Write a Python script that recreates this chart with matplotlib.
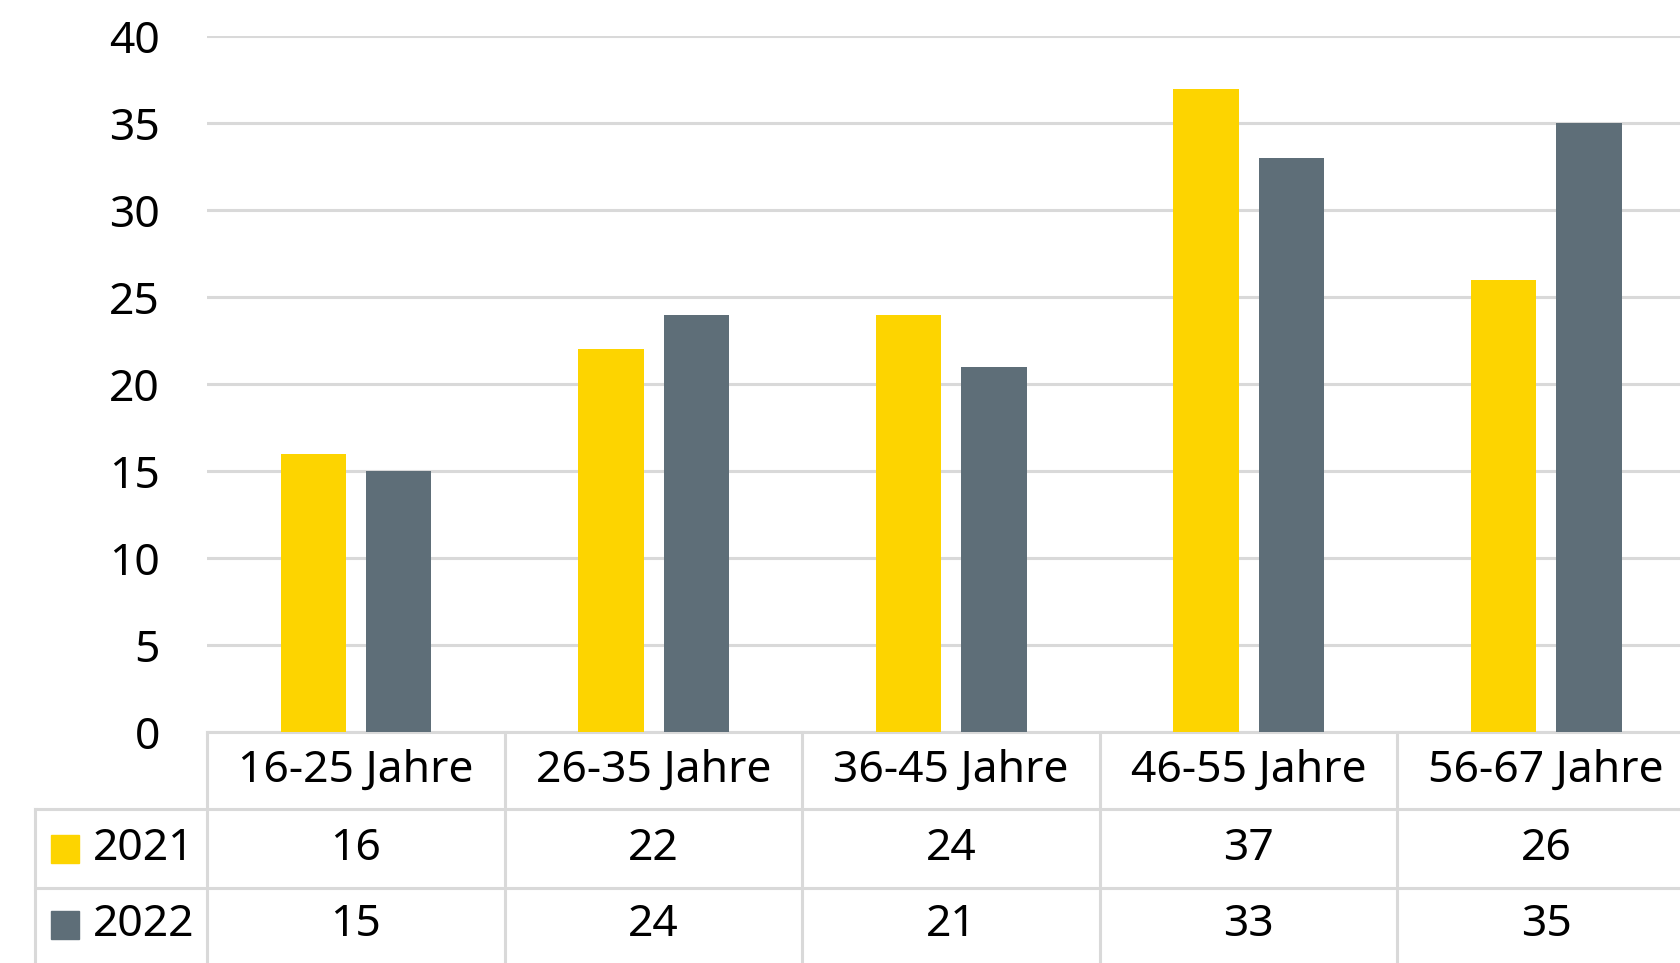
import matplotlib.pyplot as plt
import numpy as np

plt.rcParams['font.family'] = ['Noto Sans', 'DejaVu Sans']

# ---------- Data ----------
categories = ["16-25 Jahre", "26-35 Jahre", "36-45 Jahre", "46-55 Jahre", "56-67 Jahre"]
years = ["2021", "2022"]
values_2021 = [16, 22, 24, 37, 26]
values_2022 = [15, 24, 21, 33, 35]
yticks = [0, 5, 10, 15, 20, 25, 30, 35, 40]

yellow = "#FDD400"
slate = "#5E6E78"
line_col = "#D9D9D9"
fs = 32

fig = plt.figure(figsize=(16.81, 9.63), dpi=100)
ax = fig.add_axes([207 / 1681, (963 - 732) / 963, 1 - 207 / 1681, (732 - 36.5) / 963])

x = np.arange(len(categories))
bw = 0.22
ax.bar(x - 0.143, values_2021, bw, color=yellow, zorder=3)
ax.bar(x + 0.144, values_2022, bw, color=slate, zorder=3)

ax.set_ylim(0, 40)
ax.set_xlim(-0.5, (1681 - 207) / 297.6 - 0.5)
ax.set_yticks(yticks)
ax.set_yticklabels([str(t) for t in yticks], fontsize=fs)
ax.tick_params(axis="y", length=0, pad=34)
for lbl in ax.get_yticklabels():
    lbl.set_y(lbl.get_position()[1])
ax.set_xticks([])
ax.yaxis.grid(True, color=line_col, linewidth=2.2, zorder=0)
for s in ax.spines.values():
    s.set_visible(False)

# ---------- Data table below ----------
tr = ax.get_xaxis_transform()
lw = 2.2
left_edge = (35 - 207) / 297.6 - 0.5
y_head = -(809 - 732) / 695.5
y_r1 = -(888 - 732) / 695.5
y_bot = -0.34
xr = ax.get_xlim()[1] + 0.1

kw = dict(color=line_col, linewidth=lw, transform=tr, clip_on=False, zorder=1)
ax.plot([-0.5, xr], [0, 0], **kw)
ax.plot([left_edge, xr], [y_head, y_head], **kw)
ax.plot([left_edge, xr], [y_r1, y_r1], **kw)
ax.plot([left_edge, left_edge], [y_head, y_bot], **kw)
for b in np.arange(-0.5, len(categories), 1.0):
    ax.plot([b, b], [0, y_bot], **kw)

y_head_txt = y_head / 2
y_r1_txt = (y_head + y_r1) / 2
y_r2_txt = -(925 - 732) / 695.5
for i, c in enumerate(categories):
    ax.text(i, y_head_txt, c, transform=tr, ha="center", va="center", fontsize=fs)
    ax.text(i, y_r1_txt, str(values_2021[i]), transform=tr, ha="center", va="center", fontsize=fs)
    ax.text(i, y_r2_txt, str(values_2022[i]), transform=tr, ha="center", va="center", fontsize=fs)

# legend keys in the row labels
sq_x = (51 - 207) / 297.6 - 0.5
sq_w = 28 / 297.6
sq_h = 28 / 695.5
txt_x = (93 - 207) / 297.6 - 0.5
for yy, lab, col in [(y_r1_txt, years[0], yellow), (y_r2_txt, years[1], slate)]:
    ax.add_patch(plt.Rectangle((sq_x, yy - sq_h / 2), sq_w, sq_h, color=col,
                               transform=tr, clip_on=False))
    ax.text(txt_x, yy, lab, transform=tr, ha="left", va="center", fontsize=fs)

fig.savefig("out.png", dpi=100)
